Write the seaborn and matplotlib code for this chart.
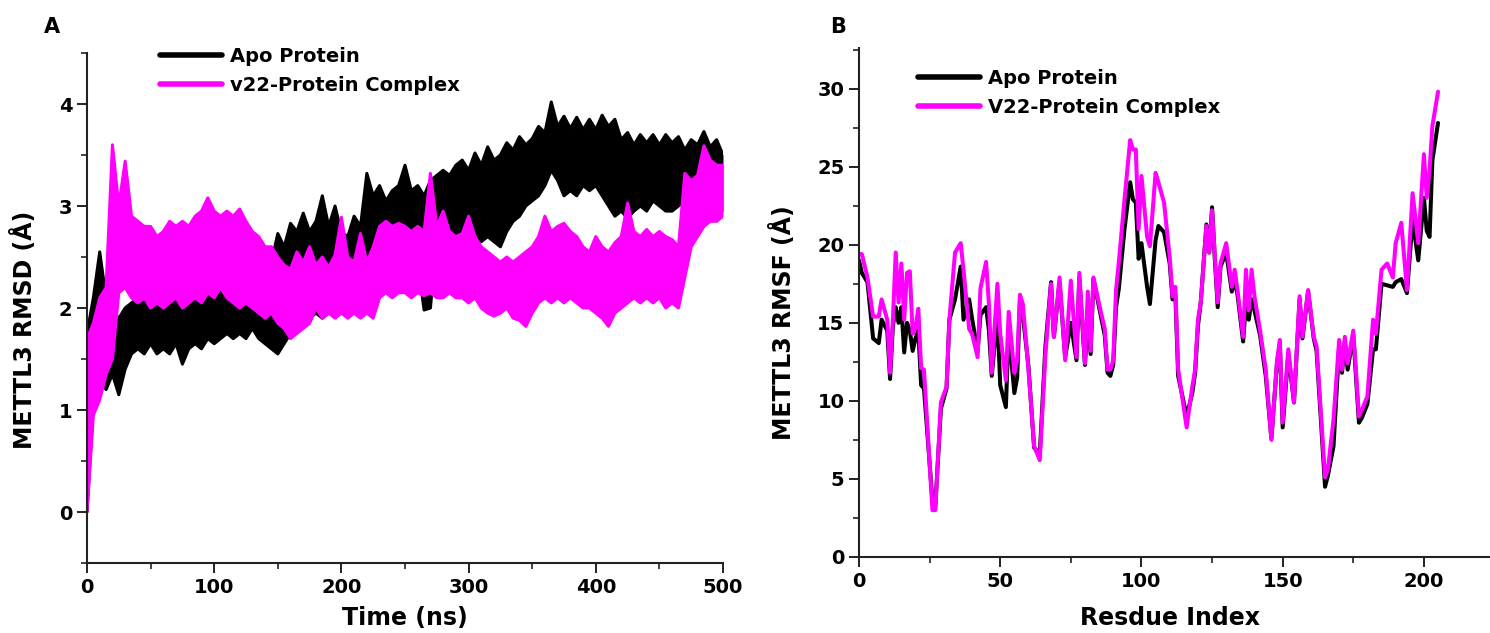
import numpy as np
import matplotlib
matplotlib.use("Agg")
import matplotlib.pyplot as plt
import seaborn as sns
from matplotlib.ticker import MultipleLocator

# ---------------- Panel A data: RMSD band (upper / lower excursions every 5 ns) ----------------
apo_rmsd_lo = [
    0.0, 1.05, 1.3, 1.2, 1.35, 1.15, 1.4, 1.55, 1.6, 1.55,
    1.65, 1.55, 1.6, 1.55, 1.65, 1.45, 1.6, 1.65, 1.6, 1.7,
    1.65, 1.7, 1.75, 1.7, 1.75, 1.7, 1.8, 1.7, 1.65, 1.6,
    1.55, 1.65, 1.75, 1.8, 1.85, 1.9, 1.95, 1.9, 1.95, 2.0,
    1.95, 1.95, 2.0, 1.95, 2.0, 2.3, 2.4, 2.45, 2.5, 2.55,
    2.5, 2.5, 2.45, 1.98, 2.0, 2.7, 2.75, 2.75, 2.7, 2.75,
    2.7, 2.7, 2.65, 2.7, 2.65, 2.6, 2.75, 2.85, 2.9, 3.0,
    3.05, 3.1, 3.2, 3.35, 3.25, 3.1, 3.15, 3.1, 3.2, 3.15,
    3.2, 3.1, 3.0, 2.9, 2.95, 2.88, 2.95, 3.0, 2.95, 3.05,
    3.0, 2.95, 2.95, 3.0, 3.05, 2.93, 3.05, 3.0, 2.95, 2.88,
    2.95,
]
apo_rmsd_hi = [
    1.75, 2.1, 2.55, 2.1, 1.95, 1.9, 2.0, 2.05, 2.1, 2.05,
    2.1, 2.1, 2.15, 2.05, 2.15, 2.1, 2.15, 2.2, 2.15, 2.25,
    2.2, 2.3, 2.35, 2.3, 2.2, 2.15, 2.2, 2.3, 2.5, 2.45,
    2.73, 2.6, 2.83, 2.75, 2.93, 2.75, 2.85, 3.1, 2.8, 3.0,
    2.74, 2.7, 2.9, 2.8, 3.32, 3.1, 3.2, 3.05, 3.15, 3.2,
    3.4, 3.15, 3.2, 3.1, 3.25, 3.3, 3.35, 3.3, 3.4, 3.45,
    3.35, 3.52, 3.4, 3.58, 3.45, 3.5, 3.62, 3.55, 3.68, 3.6,
    3.66, 3.78, 3.72, 4.02, 3.78, 3.88, 3.76, 3.87, 3.75, 3.85,
    3.75, 3.89, 3.78, 3.85, 3.65, 3.72, 3.6, 3.7, 3.62, 3.7,
    3.6, 3.7, 3.62, 3.68, 3.55, 3.65, 3.6, 3.73, 3.58, 3.65,
    3.5,
]
cpx_rmsd_lo = [
    0.0, 0.95, 1.1, 1.35, 1.5, 2.15, 2.2, 2.1, 2.05, 2.1,
    2.0, 2.05, 2.0, 2.05, 2.1, 2.0, 2.05, 2.1, 2.05, 2.15,
    2.1, 2.2, 2.1, 2.05, 2.0, 2.05, 2.0, 1.95, 1.9, 1.95,
    1.85, 1.8, 1.7, 1.75, 1.8, 1.85, 2.0, 1.9, 1.95, 1.9,
    1.95, 1.9, 1.95, 1.9, 1.95, 1.9, 2.1, 2.15, 2.1, 2.15,
    2.15, 2.1, 2.15, 2.12, 2.15, 2.1, 2.1, 2.15, 2.1, 2.1,
    2.05, 2.1, 2.0, 1.95, 1.92, 1.95, 2.0, 1.9, 1.88, 1.82,
    1.95, 2.05, 2.1, 2.05, 2.1, 2.05, 2.1, 2.05, 2.0, 2.0,
    1.95, 1.9, 1.82, 1.95, 2.0, 2.05, 2.1, 2.05, 2.1, 2.05,
    2.1, 2.0, 2.05, 2.0, 2.3, 2.6, 2.7, 2.8, 2.85, 2.85,
    2.9,
]
cpx_rmsd_hi = [
    1.7, 1.85, 2.1, 2.2, 3.6, 3.0, 3.44, 2.9, 2.85, 2.8,
    2.8, 2.7, 2.75, 2.85, 2.8, 2.85, 2.8, 2.9, 2.95, 3.08,
    2.95, 2.9, 2.95, 2.9, 2.97, 2.85, 2.75, 2.7, 2.6, 2.6,
    2.5, 2.42, 2.38, 2.55, 2.45, 2.6, 2.42, 2.5, 2.4, 2.52,
    2.89, 2.5, 2.45, 2.73, 2.45, 2.6, 2.8, 2.85, 2.8, 2.83,
    2.8, 2.75, 2.8, 2.75, 3.32, 2.8, 2.95, 2.75, 2.7, 2.73,
    2.9, 2.7, 2.6, 2.55, 2.5, 2.45, 2.5, 2.45, 2.5, 2.55,
    2.6, 2.7, 2.9, 2.75, 2.8, 2.83, 2.75, 2.7, 2.6, 2.55,
    2.7, 2.6, 2.55, 2.64, 2.7, 3.03, 2.75, 2.7, 2.77, 2.7,
    2.75, 2.7, 2.67, 2.6, 3.32, 3.25, 3.3, 3.59, 3.45, 3.4,
    3.4,
]

# ---------------- Panel B data: RMSF per residue ----------------
residue = [
    0, 1, 3, 5, 7, 8, 10, 11, 12, 13, 14, 15, 16, 17, 18, 19, 20, 21, 22, 23,
    26, 27, 29, 31, 32, 34, 36, 37, 39, 40, 42, 43, 45, 46, 47, 49, 50, 52, 53, 55,
    56, 57, 58, 60, 62, 64, 66, 68, 69, 71, 73, 75, 77, 78, 80, 81, 82, 83, 85, 87,
    88, 89, 90, 91, 92, 94, 96, 97, 98, 99, 100, 102, 103, 105, 106, 108, 110, 111, 112, 113,
    116, 118, 119, 120, 121, 123, 124, 125, 126, 127, 128, 130, 132, 133, 134, 136, 137, 138, 139, 140,
    142, 144, 146, 148, 149, 150, 152, 154, 156, 157, 159, 161, 162, 165, 166, 168, 170, 171, 172, 173,
    175, 177, 178, 180, 182, 183, 185, 187, 189, 190, 192, 194, 196, 198, 200, 201, 202, 203, 205,
]
rmsf_complex = [
    19.4, 19.4, 17.9, 15.4, 15.4, 16.5, 15.2, 11.8, 15.2, 19.5, 16.3, 18.8, 15.2, 18.2, 18.3, 14.3, 14.7, 15.9, 12.1, 12.0,
    3.0, 3.0, 9.9, 10.9, 15.2, 19.5, 20.1, 18.4, 14.6, 14.3, 12.8, 17.2, 18.9, 16.2, 11.8, 17.5, 14.3, 11.3, 15.7, 11.8,
    12.6, 16.8, 16.2, 12.0, 7.1, 6.2, 13.0, 17.5, 14.1, 17.9, 12.6, 17.7, 12.8, 18.2, 12.4, 17.0, 13.2, 17.9, 16.2, 14.6,
    12.0, 12.0, 12.6, 17.1, 18.9, 22.9, 26.7, 26.1, 26.1, 21.0, 24.4, 20.5, 19.9, 24.6, 24.0, 22.7, 19.2, 16.7, 17.3, 12.0,
    8.3, 10.9, 12.0, 15.2, 16.3, 21.2, 19.5, 22.2, 19.2, 16.3, 18.8, 20.1, 17.3, 18.4, 17.1, 14.1, 18.4, 15.8, 18.4, 16.7,
    14.5, 12.0, 7.5, 12.6, 13.9, 8.6, 13.3, 9.9, 16.7, 14.1, 17.1, 14.1, 13.5, 5.1, 5.6, 8.8, 13.9, 12.0, 14.1, 12.4,
    14.5, 9.0, 9.4, 10.3, 15.2, 14.3, 18.4, 18.8, 17.9, 20.1, 21.4, 17.1, 23.3, 20.1, 25.8, 23.0, 24.8, 27.6, 29.8,
]
rmsf_apo = [
    19.0, 18.2, 17.6, 14.0, 13.7, 15.2, 14.5, 11.4, 14.8, 16.0, 15.0, 16.0, 13.1, 15.0, 14.5, 13.2, 14.0, 14.5, 11.0, 10.8,
    3.6, 3.2, 9.5, 10.8, 15.2, 16.5, 18.6, 15.2, 16.5, 15.3, 13.2, 15.5, 16.0, 14.5, 11.6, 15.5, 11.0, 9.6, 14.5, 10.5,
    11.5, 16.5, 15.5, 12.2, 7.0, 6.6, 13.5, 17.6, 14.1, 17.6, 12.8, 15.0, 12.6, 17.9, 12.3, 15.5, 13.0, 17.8, 16.0, 14.2,
    11.8, 11.6, 12.3, 16.0, 17.2, 21.0, 24.0, 22.9, 22.7, 19.1, 20.1, 17.3, 16.2, 20.3, 21.2, 20.8, 18.8, 16.5, 16.8, 11.6,
    9.0, 10.5, 11.8, 14.8, 16.3, 21.3, 19.5, 22.4, 19.0, 16.0, 18.6, 19.5, 17.0, 17.8, 16.8, 13.8, 16.3, 15.2, 16.5, 15.8,
    14.2, 11.6, 7.6, 12.4, 13.6, 8.3, 13.0, 9.9, 16.5, 14.0, 17.0, 14.0, 13.2, 4.5, 5.2, 7.1, 13.5, 11.8, 13.8, 12.0,
    14.2, 8.6, 8.9, 9.8, 13.3, 13.3, 17.5, 17.4, 17.3, 17.6, 17.8, 16.9, 21.6, 19.0, 23.0, 20.9, 20.5, 25.4, 27.8,
]

labels_a = ["Apo Protein", "v22-Protein Complex"]
labels_b = ["Apo Protein", "V22-Protein Complex"]
BLACK = "#000000"
MAGENTA = "#FF00FF"

sns.set_style("ticks")
plt.rcParams["font.family"] = ["DejaVu Sans"]
plt.rcParams["font.weight"] = "bold"
plt.rcParams["text.color"] = "black"
plt.rcParams["axes.labelcolor"] = "black"

fig = plt.figure(figsize=(14.9, 6.33), dpi=100)
axA = fig.add_axes([87 / 1490, 1 - 563 / 633, 636 / 1490, 510 / 633])
axB = fig.add_axes([859 / 1490, 1 - 557 / 633, 631 / 1490, 509 / 633])

# ---- Panel A ----
tA_apo = np.linspace(0, 500, len(apo_rmsd_hi))
tA_cpx = np.linspace(0, 500, len(cpx_rmsd_hi))
series_a = ((tA_apo, apo_rmsd_lo, apo_rmsd_hi, BLACK, labels_a[0]),
            (tA_cpx, cpx_rmsd_lo, cpx_rmsd_hi, MAGENTA, labels_a[1]))
for i, (t, lo, hi, col, lab) in enumerate(series_a):
    z = 2 + 2 * i
    axA.fill_between(t, lo, hi, color=col, linewidth=0, zorder=z)
    sns.lineplot(x=t, y=hi, color=col, linewidth=2.2, label=lab, ax=axA, zorder=z + 0.5)
    sns.lineplot(x=t, y=lo, color=col, linewidth=2.2, ax=axA, zorder=z + 0.5)

# ---- Panel B ----
sns.lineplot(x=residue, y=rmsf_apo, color=BLACK, linewidth=2.9, label=labels_b[0], ax=axB)
sns.lineplot(x=residue, y=rmsf_complex, color=MAGENTA, linewidth=2.9, label=labels_b[1], ax=axB)

for ax in (axA, axB):
    sns.despine(ax=ax)
    for sp in ("left", "bottom"):
        ax.spines[sp].set_linewidth(1.5)
        ax.spines[sp].set_color("#222222")
        ax.spines[sp].set_zorder(10)
    ax.tick_params(which="major", direction="out", length=7, width=1.4,
                   labelsize=14, colors="#222222", labelcolor="black")
    ax.tick_params(which="minor", direction="out", length=4, width=1.2, colors="#222222")

axA.set_xlim(0, 500)
axA.set_ylim(-0.5, 4.5)
axA.xaxis.set_major_locator(MultipleLocator(100))
axA.xaxis.set_minor_locator(MultipleLocator(50))
axA.yaxis.set_major_locator(MultipleLocator(1))
axA.yaxis.set_minor_locator(MultipleLocator(0.5))
axA.set_xlabel("Time (ns)", fontsize=17, fontweight="bold")
axA.set_ylabel("METTL3 RMSD (Å)", fontsize=17, fontweight="bold")
axA.xaxis.set_label_coords(0.5, -0.084)
axA.yaxis.set_label_coords(-0.078, 0.457)

axB.set_xlim(0, 223.4)
axB.set_ylim(0, 32.6)
axB.xaxis.set_major_locator(MultipleLocator(50))
axB.xaxis.set_minor_locator(MultipleLocator(25))
axB.yaxis.set_major_locator(MultipleLocator(5))
axB.yaxis.set_minor_locator(MultipleLocator(2.5))
axB.set_xlabel("Resdue Index", fontsize=17, fontweight="bold")
axB.set_ylabel("METTL3 RMSF (Å)", fontsize=17, fontweight="bold")
axB.xaxis.set_label_coords(0.493, -0.096)
axB.yaxis.set_label_coords(-0.100, 0.46)

for lab in axA.get_xticklabels() + axA.get_yticklabels() + axB.get_xticklabels() + axB.get_yticklabels():
    lab.set_fontweight("bold")

legA = axA.legend(loc="upper left", bbox_to_anchor=((160 - 87) / 636, (563 - 47) / 510),
                  frameon=False, handlelength=3.2, handletextpad=0.4,
                  labelspacing=0.5, borderpad=0, borderaxespad=0,
                  prop={"weight": "bold", "size": 14})
legB = axB.legend(loc="upper left", bbox_to_anchor=((918 - 859) / 631, (557 - 69) / 509),
                  frameon=False, handlelength=3.2, handletextpad=0.4,
                  labelspacing=0.5, borderpad=0, borderaxespad=0,
                  prop={"weight": "bold", "size": 14})
for leg in (legA, legB):
    leg.set_zorder(20)
    for h in leg.get_lines():
        h.set_linewidth(4)
    for txt in leg.get_texts():
        txt.set_color("black")

fig.text(52 / 1490, 1 - 27 / 633, "A", fontsize=15, fontweight="bold", ha="center", va="center")
fig.text(838 / 1490, 1 - 27 / 633, "B", fontsize=15, fontweight="bold", ha="center", va="center")

fig.savefig("out.png", dpi=100)
